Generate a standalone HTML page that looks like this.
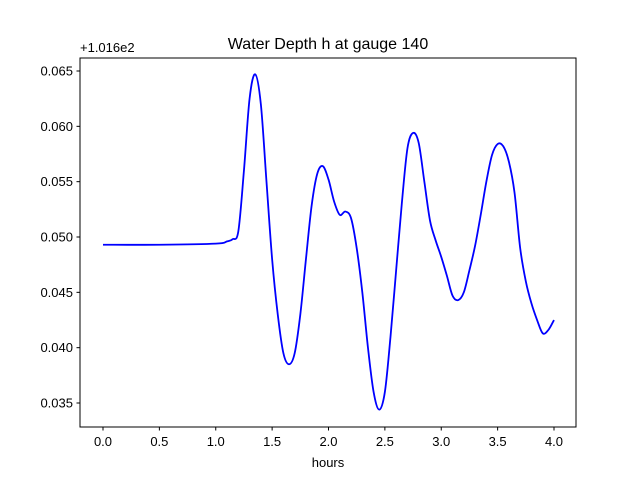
<!DOCTYPE html>
<html><head><meta charset="utf-8"><style>
body{margin:0;background:#fff;}
svg{display:block;font-family:"Liberation Sans","DejaVu Sans",sans-serif;}
</style></head><body>
<svg id="chart" width="640" height="480">
<rect width="640" height="480" fill="#fff"/>
<text x="328" y="49" font-size="16" text-anchor="middle">Water Depth h at gauge 140</text>
<text x="80" y="52" font-size="13">+1.016e2</text>
<text x="328" y="467" font-size="13" text-anchor="middle">hours</text>
<g id="xticks"></g>
<g id="yticks"></g>
<path id="line" fill="none" stroke="#0000ff" stroke-width="1.8"/>
<rect x="80" y="58" width="496" height="369" fill="none" stroke="#000" stroke-width="1"/>
</svg>
<script>
const hours=[0,0.5,1.0,1.1,1.15,1.2,1.25,1.3,1.35,1.4,1.45,1.5,1.55,1.6,1.65,1.7,1.75,1.8,1.85,1.9,1.95,2.0,2.05,2.1,2.15,2.2,2.25,2.3,2.35,2.4,2.45,2.5,2.55,2.6,2.65,2.7,2.75,2.8,2.85,2.9,2.95,3.0,3.05,3.1,3.15,3.2,3.25,3.3,3.35,3.4,3.45,3.5,3.55,3.6,3.65,3.7,3.75,3.8,3.85,3.9,3.95,4.0];
const depth=[0.0493,0.0493,0.0494,0.0496,0.0498,0.0505,0.056,0.0625,0.0647,0.062,0.055,0.048,0.043,0.0395,0.0385,0.0395,0.043,0.048,0.0528,0.0557,0.0564,0.0552,0.0532,0.052,0.0523,0.0517,0.049,0.045,0.040,0.036,0.0344,0.036,0.041,0.047,0.053,0.058,0.0594,0.0585,0.055,0.0515,0.0497,0.0482,0.0465,0.0447,0.0443,0.045,0.047,0.0492,0.052,0.055,0.0574,0.0584,0.0582,0.0568,0.054,0.049,0.046,0.044,0.0425,0.0413,0.0416,0.0425];
const xTicks=[0,0.5,1,1.5,2,2.5,3,3.5,4];
const yTicks=[0.035,0.040,0.045,0.050,0.055,0.060,0.065];
const xs=v=>103+v*112.75;
const ys=v=>71+(0.065-v)*11067;
const NS="http://www.w3.org/2000/svg";
const xg=document.getElementById('xticks'),yg=document.getElementById('yticks');
xTicks.forEach(t=>{
 const l=document.createElementNS(NS,'line');
 
 
 l.setAttribute('x1',xs(t));l.setAttribute('x2',xs(t));l.setAttribute('y1',427);l.setAttribute('y2',430.5);l.setAttribute('stroke','#000');
 xg.appendChild(l);
 const tx=document.createElementNS(NS,'text');
 
 
 tx.setAttribute('x',xs(t));tx.setAttribute('y',446);tx.setAttribute('font-size','13');tx.setAttribute('text-anchor','middle');
 tx.textContent=t.toFixed(1);xg.appendChild(tx);
});
yTicks.forEach(t=>{
 const l=document.createElementNS(NS,'line');
 
 
 l.setAttribute('x1',76.5);l.setAttribute('x2',80);l.setAttribute('y1',ys(t));l.setAttribute('y2',ys(t));l.setAttribute('stroke','#000');
 yg.appendChild(l);
 const tx=document.createElementNS(NS,'text');
 
 
 tx.setAttribute('x',73);tx.setAttribute('y',ys(t)+4.5);tx.setAttribute('font-size','13');tx.setAttribute('text-anchor','end');
 tx.textContent=t.toFixed(3);yg.appendChild(tx);
});
// Catmull-Rom smoothing
const P=hours.map((h,i)=>[xs(h),ys(depth[i])]);
let d='M'+P[0][0]+','+P[0][1];
for(let i=0;i<P.length-1;i++){
 const p0=P[Math.max(0,i-1)],p1=P[i],p2=P[i+1],p3=P[Math.min(P.length-1,i+2)];
 const c1=[p1[0]+(p2[0]-p0[0])/6,p1[1]+(p2[1]-p0[1])/6];
 const c2=[p2[0]-(p3[0]-p1[0])/6,p2[1]-(p3[1]-p1[1])/6];
 d+=` C${c1[0]},${c1[1]} ${c2[0]},${c2[1]} ${p2[0]},${p2[1]}`;
}
document.getElementById('line').setAttribute('d',d);
</script>
</body></html>
